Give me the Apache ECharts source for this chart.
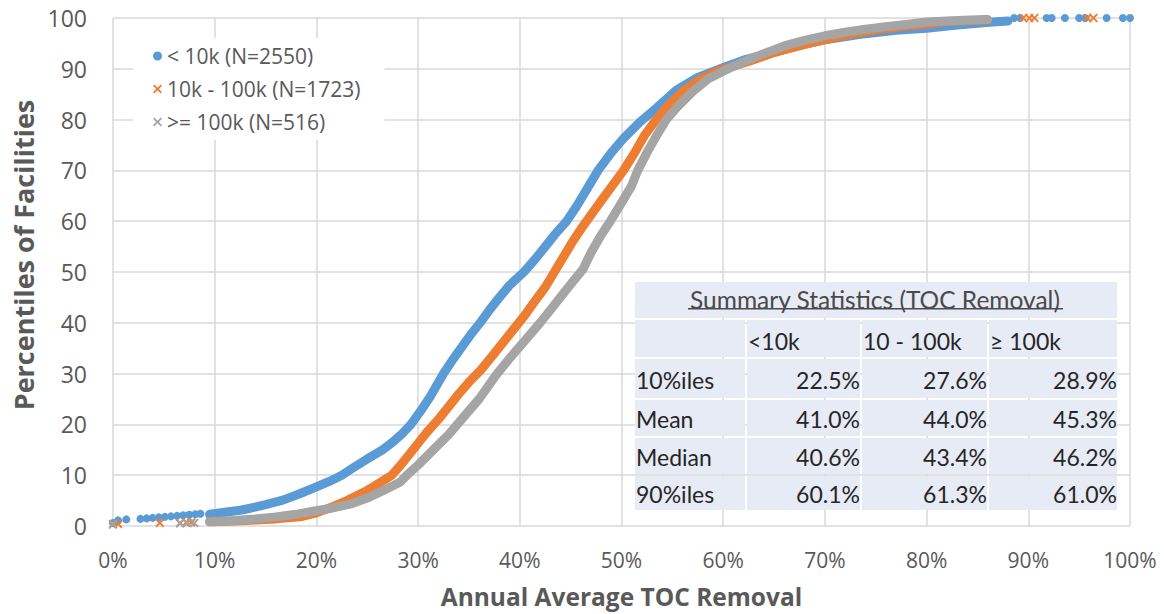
<!DOCTYPE html>
<html>
<head>
<meta charset="utf-8">
<script src="https://cdn.jsdelivr.net/npm/echarts@6/dist/echarts.min.js"></script>
<style>
  html, body { margin: 0; padding: 0; background: #ffffff; }
  #chart { width: 1164px; height: 614px; }
</style>
</head>
<body>
<div id="chart"></div>
<script>
// Facility size groups
const groupNames = ['< 10k (N=2550)', '10k - 100k (N=1723)', '>= 100k (N=516)'];
const groupColors = ['#5B9BD5', '#ED7D31', '#A5A5A5'];

// Cumulative distributions: [annual average TOC removal (%), percentile of facilities]
const smallBand = [
  [9.5, 2.3], [11, 2.7], [12.5, 3.1], [13.5, 3.5], [15, 4.2], [16.7, 5.1], [18.3, 6.3], [20, 7.7],
  [21.5, 9], [22.5, 10], [23.5, 11.3], [25, 13.2], [26.5, 15], [27.5, 16.5], [28.5, 18.3], [29.3, 20],
  [30.2, 22.5], [31.2, 25.5], [32.5, 30], [33.5, 33], [34.5, 35.8], [35.3, 38], [36.1, 40], [37, 42.5],
  [38, 45], [39, 47.4], [40.4, 50], [41.5, 52.5], [42.5, 55], [43.5, 57.5], [44.6, 60], [45.6, 63],
  [46.6, 66.3], [47.7, 70], [49, 73.5], [50.2, 76.3], [51.8, 79.5], [53.4, 82.2], [55.4, 85.8], [57.5, 88.3],
  [60.1, 90.3], [62, 91.7], [65, 93.3], [68, 94.8], [70, 95.7], [73.5, 96.8], [77, 97.6], [80, 98],
  [83, 98.6], [86.5, 99.2], [88, 99.4]
];
const smallTails = [
  [0, 0.6], [0.5, 1.1], [1.3, 1.3], [2.7, 1.4], [3.3, 1.5], [3.9, 1.6], [4.5, 1.7], [5.1, 1.8],
  [5.7, 1.9], [6.3, 2.0], [6.9, 2.1], [7.5, 2.2], [8.1, 2.3], [8.6, 2.4],
  [88.6, 100], [89.2, 100], [91.8, 100], [92.3, 100], [93.6, 100], [95, 100], [95.6, 100],
  [97.7, 100], [99.3, 100], [100, 100]
];

const midBand = [
  [9.5, 0.9], [12, 1.0], [14, 1.2], [16, 1.4], [18.4, 1.8], [20, 2.6], [21.6, 3.8], [23, 5],
  [25, 7], [26.3, 8.6], [27.4, 10], [28.3, 12], [29.5, 15], [30.8, 18.3], [32, 21], [33, 23.5],
  [34, 26], [35, 28.3], [36.2, 30.8], [37.3, 33.5], [38.5, 36.5], [39.5, 39], [40.5, 41.5], [41.5, 44.3],
  [42.5, 47], [43.4, 50], [44.3, 53], [45.2, 56], [46.2, 59], [47.1, 61.5], [48.1, 64.3], [49.1, 67],
  [50.2, 70], [51.3, 73.5], [52.3, 77], [53.4, 80], [54.6, 82.8], [56, 85.5], [57.8, 88], [59.5, 89.6],
  [61.3, 90.7], [63, 91.8], [65, 93.2], [67, 94.3], [69, 95.3], [71, 96.2], [73, 97], [75.5, 97.8],
  [77.5, 98.3], [80, 98.8], [82, 99.3], [84.3, 99.5], [86, 99.6]
];
const midTails = [
  [0, 0.3], [0.5, 0.4], [4.6, 0.6], [6.6, 0.6], [7.2, 0.7], [7.7, 0.7],
  [89.5, 100], [90.1, 100], [90.6, 100], [95.8, 100], [96.4, 100]
];

const largeBand = [
  [9.5, 0.8], [12, 1.1], [14, 1.4], [16, 1.8], [18, 2.3], [19.7, 2.9], [21.5, 3.5], [23.3, 4.3],
  [25, 5.5], [26.6, 7], [28.2, 8.6], [28.9, 10], [30, 12], [31.5, 15], [33, 18], [34.5, 21.5],
  [36, 25], [37.7, 29.8], [39, 33], [40.5, 36.5], [42, 40], [43.2, 43], [44.3, 45.8], [45.3, 48.3],
  [46.2, 50.5], [47, 53.8], [48, 57.3], [48.9, 60], [50, 63.6], [51, 67], [51.6, 70], [52.5, 73.5],
  [53.5, 77], [54.4, 80], [55.5, 82.5], [57, 85.5], [58.5, 88], [60, 89.5], [61, 90.5], [62.5, 91.8],
  [64, 93], [66, 94.5], [68, 95.6], [70, 96.5], [72, 97.2], [74, 97.8], [76, 98.3], [78.4, 98.8],
  [80, 99.2], [82, 99.4], [84.3, 99.6], [86, 99.7]
];
const largeTails = [
  [0, 0.4], [6.6, 0.5], [7.3, 0.6], [8, 0.6]
];

// Summary statistics table
const tableTitle = 'Summary Statistics (TOC Removal)';
const tableCols = ['<10k', '10 - 100k', '\u2265 100k'];
const tableRows = ['10%iles', 'Mean', 'Median', '90%iles'];
const tableValues = [
  ['22.5%', '27.6%', '28.9%'],
  ['41.0%', '44.0%', '45.3%'],
  ['40.6%', '43.4%', '46.2%'],
  ['60.1%', '61.3%', '61.0%']
];

const TEXT = '#595959';
const FONT = 'Open Sans';
const crossIcon = 'path://M0,1.5 L1.5,0 L5,3.5 L8.5,0 L10,1.5 L6.5,5 L10,8.5 L8.5,10 L5,6.5 L1.5,10 L0,8.5 L3.5,5 Z';
const groupIcons = ['circle', crossIcon, crossIcon];

const bands = [smallBand, midBand, largeBand];
const tails = [smallTails, midTails, largeTails];

const series = [];
groupNames.forEach((name, i) => {
  series.push({
    name: name,
    type: 'line',
    data: bands[i],
    showSymbol: false,
    smooth: false,
    lineStyle: { color: groupColors[i], width: 9, cap: 'round', join: 'round' },
    itemStyle: { color: groupColors[i] },
    z: 2 + i,
    silent: true
  });
  series.push({
    name: name,
    type: 'scatter',
    data: tails[i],
    symbol: groupIcons[i],
    symbolSize: i === 0 ? 8 : 9,
    itemStyle: { color: groupColors[i], opacity: 1 },
    z: 2 + i,
    silent: true
  });
});

// Table geometry
const colX = [[635, 745], [747, 860], [862, 987], [989, 1117]];
const rowY = [[282, 318], [320, 357], [359, 398], [400, 436], [438, 474], [476, 510]];
const CELL = '#E7EBF5';
const tableFont = 'Lato';
const tableSize = 23;
const graphics = [];
graphics.push({
  type: 'rect', shape: { x: colX[0][0], y: rowY[0][0], width: colX[3][1] - colX[0][0], height: rowY[0][1] - rowY[0][0] },
  style: { fill: CELL }, z: 10
});
for (let r = 1; r < rowY.length; r++) {
  for (let c = 0; c < colX.length; c++) {
    graphics.push({
      type: 'rect',
      shape: { x: colX[c][0], y: rowY[r][0], width: colX[c][1] - colX[c][0], height: rowY[r][1] - rowY[r][0] },
      style: { fill: CELL }, z: 10
    });
  }
}
graphics.push({
  type: 'text', x: 875, y: 299, z: 11,
  style: { text: tableTitle, fill: '#4a4a4a', font: '24.5px ' + tableFont, align: 'center', verticalAlign: 'middle' }
});
graphics.push({
  type: 'rect', shape: { x: 688, y: 308, width: 375, height: 1.6 }, style: { fill: '#4a4a4a' }, z: 11
});
tableCols.forEach((t, c) => {
  graphics.push({
    type: 'text', x: colX[c + 1][0] + 1, y: (rowY[1][0] + rowY[1][1]) / 2 + 2, z: 11,
    style: { text: t, fill: '#262626', font: tableSize + 'px ' + tableFont, align: 'left', verticalAlign: 'middle' }
  });
});
tableRows.forEach((t, r) => {
  const cy = (rowY[r + 2][0] + rowY[r + 2][1]) / 2 + 1;
  graphics.push({
    type: 'text', x: colX[0][0] + 1, y: cy, z: 11,
    style: { text: t, fill: '#262626', font: tableSize + 'px ' + tableFont, align: 'left', verticalAlign: 'middle' }
  });
  tableValues[r].forEach((v, c) => {
    graphics.push({
      type: 'text', x: colX[c + 1][1], y: cy, z: 11,
      style: { text: v, fill: '#262626', font: tableSize + 'px ' + tableFont, align: 'right', verticalAlign: 'middle' }
    });
  });
});

// Vertical axis title
graphics.push({
  type: 'text', x: 23, y: 255, rotation: Math.PI / 2, z: 11,
  style: { text: 'Percentiles of Facilities', fill: TEXT, font: 'bold 27px ' + FONT, align: 'center', verticalAlign: 'middle' }
});

const chart = echarts.init(document.getElementById('chart'), null, { renderer: 'svg' });
chart.setOption({
  backgroundColor: '#ffffff',
  animation: false,
  grid: { left: 113, right: 34, top: 18, bottom: 88, containLabel: false },
  legend: {
    orient: 'vertical',
    left: 133, top: 38,
    padding: [7, 24, 7, 20],
    backgroundColor: '#ffffff',
    itemGap: 11,
    itemWidth: 9, itemHeight: 9,
    selectedMode: false,
    textStyle: { color: TEXT, fontSize: 21, fontFamily: FONT, lineHeight: 22 },
    data: groupNames.map((n, i) => ({ name: n, icon: groupIcons[i] })),
    z: 8
  },
  xAxis: {
    type: 'value', min: 0, max: 100, interval: 10,
    name: 'Annual Average TOC Removal',
    nameLocation: 'middle', nameGap: 58,
    nameTextStyle: { color: TEXT, fontSize: 24.5, fontWeight: 'bold', fontFamily: FONT },
    axisLine: { show: false }, axisTick: { show: false },
    axisLabel: { color: TEXT, fontSize: 21, fontFamily: FONT, margin: 23, formatter: '{value}%' },
    splitLine: { show: true, showMinLine: true, showMaxLine: true, lineStyle: { color: '#D9D9D9', width: 1.5 } }
  },
  yAxis: {
    type: 'value', min: 0, max: 100, interval: 10,
    axisLine: { show: false }, axisTick: { show: false },
    axisLabel: { color: TEXT, fontSize: 23, fontFamily: FONT, margin: 26 },
    splitLine: { show: true, showMinLine: true, showMaxLine: true, lineStyle: { color: '#D9D9D9', width: 1.5 } }
  },
  series: series,
  graphic: graphics
});
</script>
</body>
</html>
